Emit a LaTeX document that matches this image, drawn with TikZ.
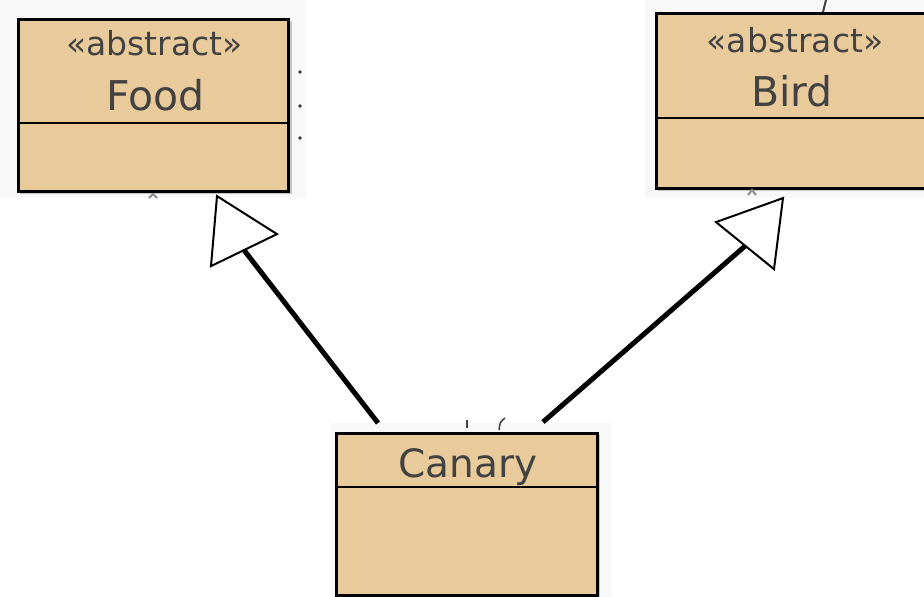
\documentclass[tikz,border=0pt]{standalone}
\usepackage{fontspec}
\setmainfont{DejaVu Sans}
\usetikzlibrary{calc}
\definecolor{classfill}{RGB}{232,202,155}
\definecolor{classtext}{RGB}{66,66,66}
\definecolor{panel}{RGB}{248,248,248}
\begin{document}
\begin{tikzpicture}[x=1pt,y=-1pt,
  classbox/.style={draw=black, line width=3.1pt, fill=classfill, rectangle,
    anchor=north west, inner sep=0pt},
  boxshadow/.style={fill=black!22},
  divider/.style={draw=black, line width=2.9pt},
  stereo/.style={anchor=base, text=classtext, inner sep=0pt,
    font=\fontsize{33}{33}\selectfont},
  cname/.style={anchor=base, text=classtext, inner sep=0pt,
    font=\fontsize{41}{41}\selectfont},
  genline/.style={draw=black, line width=5pt},
  genhead/.style={draw=black, fill=white, line width=2pt, line join=miter},
  tick/.style={draw=black!75, line width=2pt}]

\useasboundingbox (0,0) rectangle (924,597);
\fill[white] (0,0) rectangle (924,597);

% light panels behind the class boxes
\fill[panel] (0,0) rectangle (306,198);
\fill[panel] (645,0) rectangle (924,198);
\fill[panel] (330,423) rectangle (612,597);

% drop shadows
\fill[boxshadow] (20,21) rectangle (292,194);
\fill[boxshadow] (658,15) rectangle (935,191);
\fill[boxshadow] (338,435) rectangle (600,597);

% Food
\node[classbox, minimum width=270pt, minimum height=172pt] (food) at (17,18) {};
\draw[divider] ($(food.north west)+(0,105)$) -- ($(food.north east)+(0,105)$);
\node[stereo] (foodst) at ($(food.north)+(1,37)$) {«abstract»};
\node[cname] (foodnm) at ($(food.north)+(2,92)$) {Food};

% Bird
\node[classbox, minimum width=280pt, minimum height=175pt] (bird) at (655,12) {};
\draw[divider] ($(bird.north west)+(0,106)$) -- ($(bird.north east)+(0,106)$);
\node[stereo] (birdst) at ($(bird.north west)+(140,40)$) {«abstract»};
\node[cname] (birdnm) at ($(bird.north west)+(137,94)$) {Bird};

% Canary
\node[classbox, minimum width=261pt, minimum height=162pt] (canary) at (335,432) {};
\draw[divider] ($(canary.north west)+(0,55)$) -- ($(canary.north east)+(0,55)$);
\node[cname, font=\fontsize{39}{39}\selectfont] (canarynm) at ($(canary.north)+(1,45)$) {Canary};

% generalisation Canary -> Food
\coordinate (c1) at ($(canary.north west)+(43,-9)$);
\coordinate (f1) at ($(food.south west)+(227,57)$);
\draw[genline] (c1) -- (f1);
\draw[genhead] ($(food.south west)+(200,3)$) -- ($(food.south west)+(260,41)$)
  -- ($(food.south west)+(194,73)$) -- cycle;

% generalisation Canary -> Bird
\coordinate (c2) at ($(canary.north west)+(208,-10)$);
\coordinate (b1) at ($(bird.south west)+(90,56)$);
\draw[genline] (c2) -- (b1);
\draw[genhead] ($(bird.south west)+(128,8)$) -- ($(bird.south west)+(61,32)$)
  -- ($(bird.south west)+(119,79)$) -- cycle;

% clipped label marks along the edges
\fill[black!80] (300,72) circle (1.8pt);
\fill[black!80] (300,106) circle (1.8pt);
\fill[black!80] (300,138) circle (1.8pt);
\draw[tick, black!45] (149,198) -- (153,194) -- (157,198);
\draw[tick] (826,0) -- (823,12);
\draw[tick, black!45] (748,195) -- (752,190) -- (756,195);
\draw[tick] (467,420) -- (467,428);
\draw[tick, line width=1.5pt] (505,418) .. controls (500,422) .. (499,430);

\end{tikzpicture}
\end{document}
